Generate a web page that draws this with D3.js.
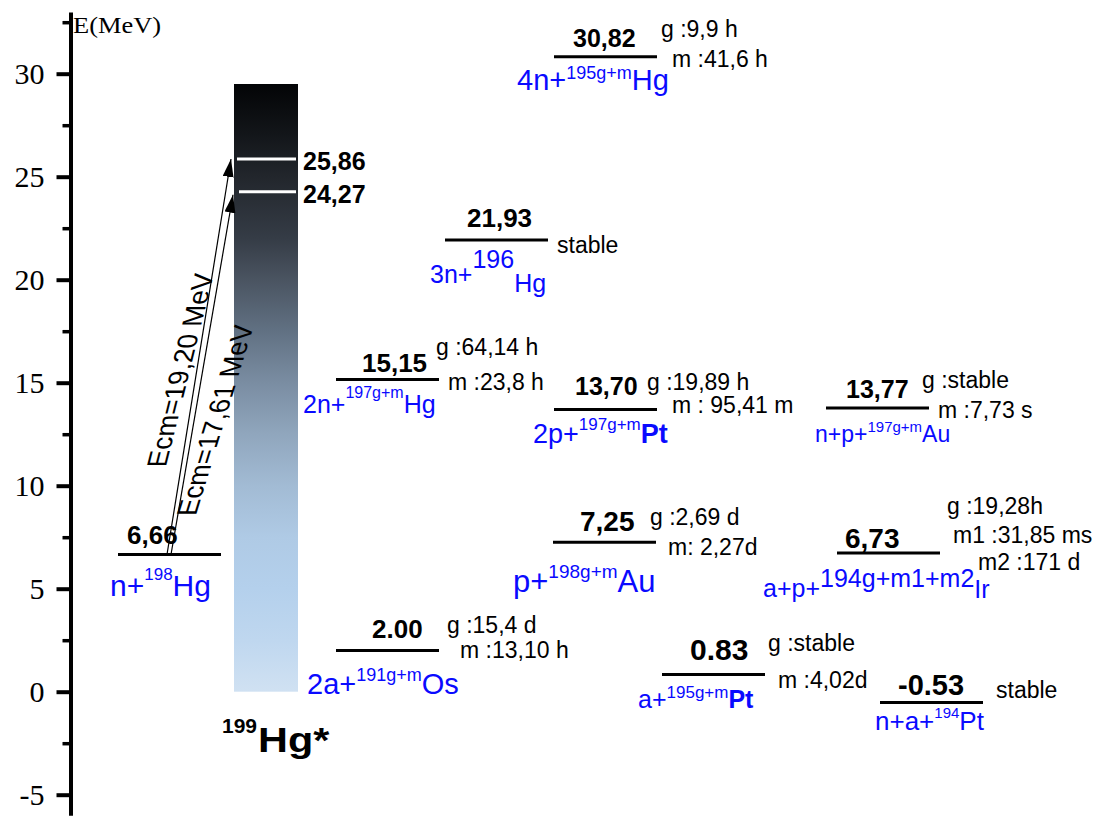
<!DOCTYPE html>
<html>
<head>
<meta charset="utf-8">
<script src="https://cdn.jsdelivr.net/npm/d3@7"></script>
<style>
  body { margin: 0; background: #fff; }
  svg { display: block; }
</style>
</head>
<body>
<svg id="chart" width="1097" height="829"></svg>
<script>
// ---- data -------------------------------------------------------------
// Exit-channel thresholds (MeV) of the compound nucleus 199Hg*
const energies = [6.66, 30.82, 21.93, 15.15, 13.70, 13.77, 7.25, 6.73, 2.00, 0.83, -0.53];
const energyLabels = ["6,66", "30,82", "21,93", "15,15", "13,70", "13,77", "7,25", "6,73", "2.00", "0.83", "-0.53"];
// [prefix, mass number / isomer states, element]
const channels = [
  ["n+", "198", "Hg"],
  ["4n+", "195g+m", "Hg"],
  ["3n+", "196", "Hg"],
  ["2n+", "197g+m", "Hg"],
  ["2p+", "197g+m", "Pt"],
  ["n+p+", "197g+m", "Au"],
  ["p+", "198g+m", "Au"],
  ["a+p+", "194g+m1+m2", "Ir"],
  ["2a+", "191g+m", "Os"],
  ["a+", "195g+m", "Pt"],
  ["n+a+", "194", "Pt"]
];
const halfLives = [
  [],
  ["g :9,9 h", "m :41,6 h"],
  ["stable"],
  ["g :64,14 h", "m :23,8 h"],
  ["g :19,89 h", "m : 95,41 m"],
  ["g :stable", "m :7,73 s"],
  ["g :2,69 d", "m: 2,27d"],
  ["g :19,28h", "m1 :31,85 ms", "m2 :171 d"],
  ["g :15,4 d", "m :13,10 h"],
  ["g :stable", "m :4,02d"],
  ["stable"]
];
// Excitation of the compound nucleus reached by the two beam energies
const compoundLevels = [25.86, 24.27];
const compoundLabels = ["25,86", "24,27"];
const beamLabels = ["Ecm=19,20 MeV", "Ecm=17,61 MeV"];
const excitationTop = 29.5;
const yTicks = [-5, 0, 5, 10, 15, 20, 25, 30];
const yMinorTicks = [-2.5, 2.5, 7.5, 12.5, 17.5, 22.5, 27.5, 32.5];

// ---- layout & style ---------------------------------------------------
const W = 1097, H = 829;
const SANS = "'Liberation Sans', Arial, Helvetica, sans-serif";
const SERIF = "'Liberation Serif', 'Times New Roman', Times, serif";
const BLUE = "#0a0aff";
const LEVEL_W = 103;

// per level: line left x, value label x/offset/size, channel label x/offset/sizes,
// half-life text anchors [x, offset from level]
const levelLayout = [
  {x: 118, vx: 127, vdy: -11, vs: 26, cx: 110, cdy: 41, cs: 30, ss: 17, rise: 16, drop: 0, eb: false, hl: []},
  {x: 554, vx: 573, vdy: -10, vs: 25, cx: 517, cdy: 33, cs: 29, ss: 18, rise: 11, drop: 0, eb: false, hl: [[661, -20], [672, 10]]},
  {x: 445, vx: 467, vdy: -13, vs: 26, cx: 430, cdy: 43, cs: 25, ss: 25, rise: 15, drop: 9, eb: false, hl: [[557, 13]]},
  {x: 336, vx: 362, vdy: -8, vs: 26, cx: 303, cdy: 33, cs: 25, ss: 16, rise: 15, drop: 0, eb: false, hl: [[436, -25], [448, 10]]},
  {x: 554, vx: 575, vdy: -14, vs: 25, cx: 533, cdy: 34, cs: 27, ss: 17, rise: 13, drop: 0, eb: true, hl: [[647, -19], [672, 4]]},
  {x: 826, vx: 846, vdy: -10, vs: 25, cx: 815, cdy: 34, cs: 23, ss: 15, rise: 10, drop: 0, eb: false, hl: [[922, -20], [938, 10]]},
  {x: 553, vx: 580, vdy: -11, vs: 28, cx: 513, cdy: 50, cs: 31, ss: 19, rise: 14, drop: 0, eb: false, hl: [[650, -17], [668, 13]]},
  {x: 837, vx: 845, vdy: -5, vs: 28, cx: 763, cdy: 44, cs: 25, ss: 25, rise: 10, drop: 1, eb: false, hl: [[947, -39], [953, -10], [978, 17]]},
  {x: 336, vx: 372, vdy: -13, vs: 26, cx: 307, cdy: 43, cs: 29, ss: 18, rise: 13, drop: 0, eb: false, hl: [[447, -18], [460, 7]]},
  {x: 662, vx: 690, vdy: -15, vs: 30, cx: 638, cdy: 33, cs: 25, ss: 17, rise: 10, drop: 0, eb: true, hl: [[768, -24], [778, 13]]},
  {x: 880, vx: 898, vdy: -8, vs: 29, cx: 875, cdy: 27, cs: 26, ss: 15, rise: 12, drop: 0, eb: false, hl: [[996, -5]]}
];

// colour ramp of the compound-nucleus column (energy -> colour)
const rampStops = [
  [29.5, "#030406"], [27, "#13161a"], [25, "#22262c"], [22, "#353c46"],
  [20, "#4a5461"], [17.5, "#617183"], [15, "#7a8da2"], [12.5, "#90a6bd"],
  [10, "#a2bbd4"], [7.5, "#afcae5"], [5, "#b4d0ec"], [2.5, "#bfd7ef"], [0, "#d0e1f2"]
];

// ---- scales -----------------------------------------------------------
const y = d3.scaleLinear().domain([-6, 33]).range([815.3, 11.9]);
const axisX = 70.5;

const svg = d3.select("#chart");
svg.append("rect").attr("width", W).attr("height", H).attr("fill", "#fff");

const defs = svg.append("defs");
const grad = defs.append("linearGradient").attr("id", "cnRamp")
  .attr("x1", 0).attr("y1", 0).attr("x2", 0).attr("y2", 1);
rampStops.forEach(([v, c]) => {
  grad.append("stop")
    .attr("offset", ((excitationTop - v) / excitationTop * 100).toFixed(2) + "%")
    .attr("stop-color", c);
});
defs.append("marker").attr("id", "head")
  .attr("markerUnits", "userSpaceOnUse")
  .attr("markerWidth", 20).attr("markerHeight", 12)
  .attr("refX", 18).attr("refY", 5.5).attr("orient", "auto")
  .append("path").attr("d", "M0,0 L18,5.5 L0,11 Z").attr("fill", "#000");

// ---- axis -------------------------------------------------------------
const gAxis = svg.append("g").attr("transform", `translate(${axisX},0)`)
  .call(d3.axisLeft(y).tickValues(yTicks).tickSize(14).tickPadding(12)
    .tickSizeOuter(0).tickFormat(d => String(d)));
gAxis.select(".domain").attr("stroke", "#000").attr("stroke-width", 4);
gAxis.selectAll(".tick line").attr("stroke", "#000").attr("stroke-width", 4);
gAxis.selectAll(".tick text").attr("fill", "#000")
  .style("font-family", SERIF).style("font-size", "30px");

const gMinor = svg.append("g").attr("transform", `translate(${axisX},0)`)
  .call(d3.axisLeft(y).tickValues(yMinorTicks).tickSize(8).tickFormat(""));
gMinor.select(".domain").remove();
gMinor.selectAll(".tick line").attr("stroke", "#000").attr("stroke-width", 3.5);

svg.append("text")
  .attr("transform", "translate(73,33) scale(1.15,1)")
  .style("font-family", SERIF).style("font-size", "23px").attr("fill", "#000")
  .text("E(MeV)");

// ---- compound nucleus column -----------------------------------------
const barX = 234, barW = 64;
svg.append("rect")
  .attr("x", barX).attr("width", barW)
  .attr("y", y(excitationTop)).attr("height", y(0) - y(excitationTop))
  .attr("fill", "url(#cnRamp)");

compoundLevels.forEach((v, i) => {
  svg.append("line")
    .attr("x1", barX + 3 + i * 2).attr("x2", barX + barW - 2)
    .attr("y1", y(v)).attr("y2", y(v))
    .attr("stroke", "#fff").attr("stroke-width", 3);
  svg.append("text")
    .attr("x", barX + barW + 5).attr("y", y(v) + 11)
    .style("font-family", SANS).style("font-size", "25px").style("font-weight", "bold")
    .attr("fill", "#000").text(compoundLabels[i]);
});

svg.append("text").attr("x", 222).attr("y", 733).attr("fill", "#000")
  .style("font-family", SANS).style("font-weight", "bold").style("font-size", "21px")
  .text("199");
svg.append("text").attr("transform", "translate(258,752) scale(1.15,1)")
  .style("font-family", SANS).style("font-weight", "bold").style("font-size", "36px")
  .attr("fill", "#000").text("Hg*");

// ---- beam arrows -------------------------------------------------------
const arrowStartX = [167, 171];
const arrowEndX = [231, 233];
const arrowEndDy = [0, 3];
compoundLevels.forEach((v, i) => {
  svg.append("line")
    .attr("x1", arrowStartX[i]).attr("y1", y(energies[0]))
    .attr("x2", arrowEndX[i]).attr("y2", y(v) + arrowEndDy[i])
    .attr("stroke", "#000").attr("stroke-width", 1.2)
    .attr("marker-end", "url(#head)");
});
const beamPos = [[190, 370, -76], [225, 420, -73]];
beamLabels.forEach((t, i) => {
  const [bx, by, a] = beamPos[i];
  svg.append("text")
    .attr("transform", `translate(${bx},${by}) rotate(${a}) skewX(${90 + a})`)
    .attr("text-anchor", "middle")
    .style("font-family", SANS).style("font-size", "27px").attr("fill", "#000")
    .text(t);
});

// ---- exit-channel levels ------------------------------------------------
energies.forEach((e, i) => {
  const L = levelLayout[i];
  const ly = y(e);
  const g = svg.append("g");

  g.append("line")
    .attr("x1", L.x).attr("x2", L.x + LEVEL_W)
    .attr("y1", ly).attr("y2", ly)
    .attr("stroke", "#000").attr("stroke-width", 3);

  g.append("text")
    .attr("x", L.vx).attr("y", ly + L.vdy)
    .style("font-family", SANS).style("font-size", L.vs + "px").style("font-weight", "bold")
    .attr("fill", "#000").text(energyLabels[i]);

  const [pre, mass, el] = channels[i];
  const base = ly + L.cdy;
  const t = g.append("text").attr("x", L.cx).attr("y", base)
    .style("font-family", SANS).attr("fill", BLUE).style("font-size", L.cs + "px");
  t.append("tspan").text(pre);
  t.append("tspan").attr("y", base - L.rise).style("font-size", L.ss + "px").text(mass);
  t.append("tspan").attr("y", base + L.drop)
    .style("font-weight", L.eb ? "bold" : "normal").text(el);

  halfLives[i].forEach((s, k) => {
    const [hx, hdy] = L.hl[k];
    g.append("text").attr("x", hx).attr("y", ly + hdy)
      .style("font-family", SANS).style("font-size", "23px")
      .attr("fill", "#000").text(s);
  });
});
</script>
</body>
</html>
